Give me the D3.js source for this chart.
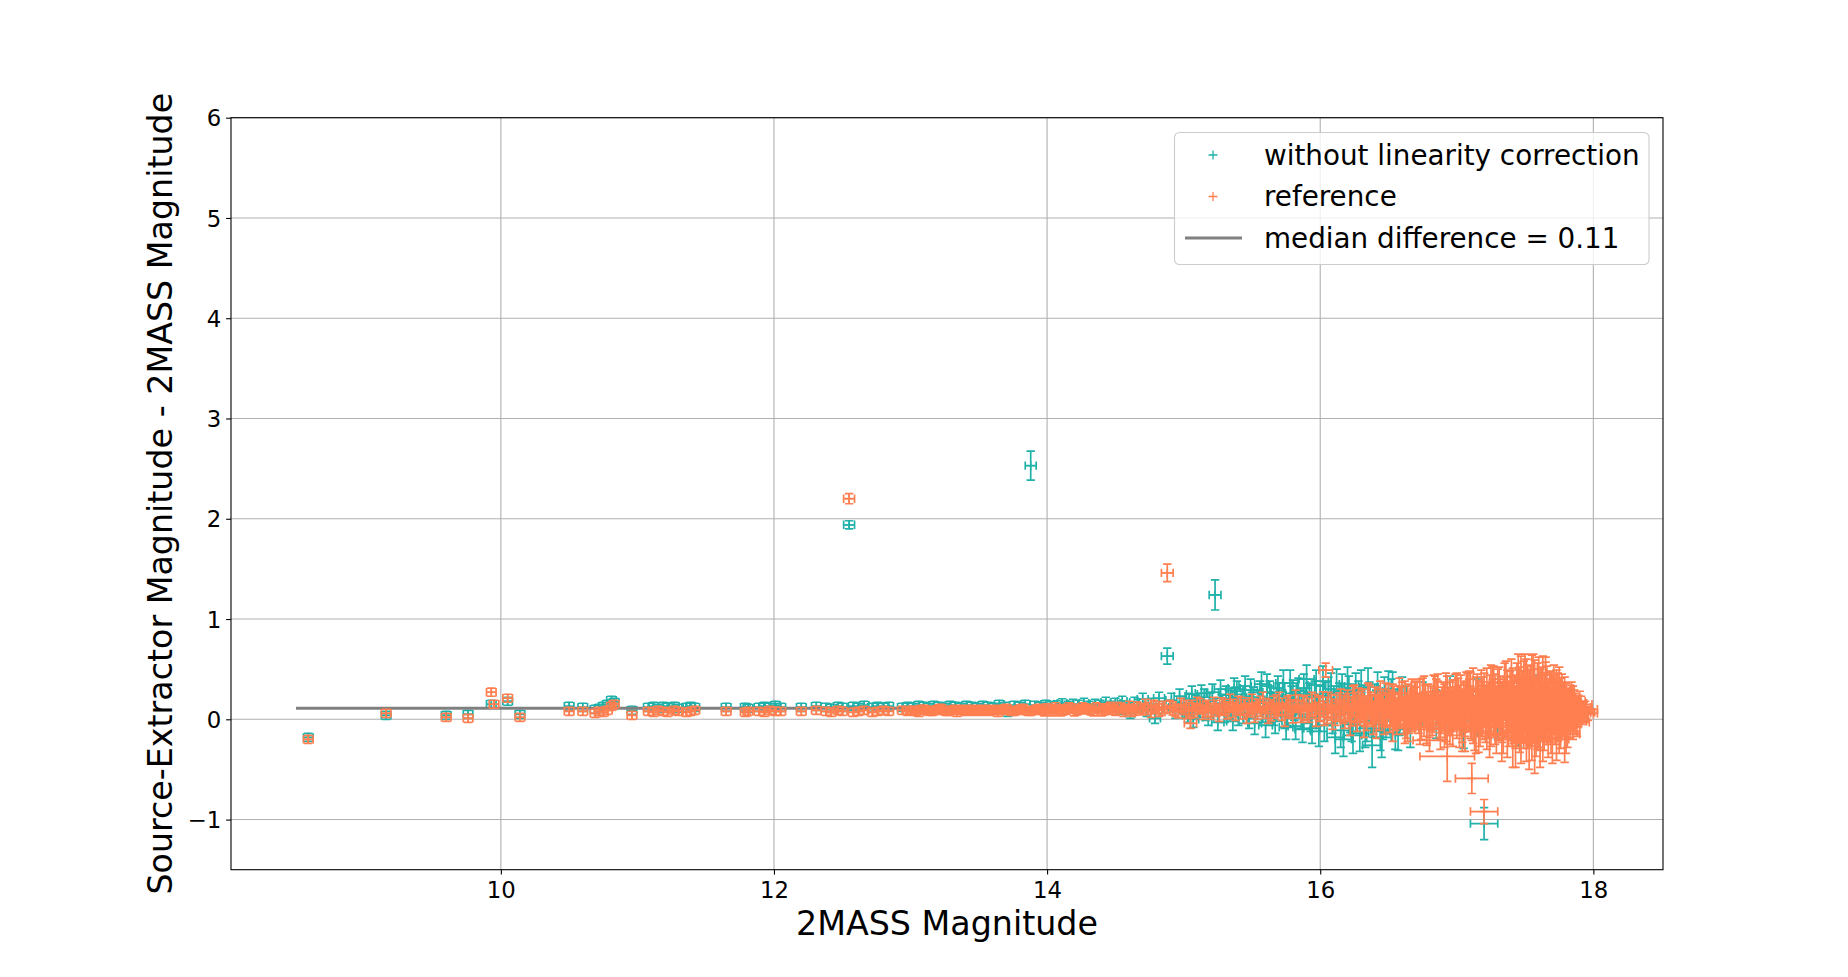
<!DOCTYPE html>
<html>
<head>
<meta charset="utf-8">
<script src="https://cdn.jsdelivr.net/npm/d3@7"></script>
<style>
body { margin: 0; background: #fff; }
text { font-family: "DejaVu Sans", sans-serif; }
</style>
</head>
<body>
<svg id="chart"></svg>
<script>
// axis setup
const xLimits = [8.024, 18.51];
const yLimits = [-1.5, 6];
const xTicks = [10, 12, 14, 16, 18];
const yTicks = [-1, 0, 1, 2, 3, 4, 5, 6];
const xLabel = '2MASS Magnitude';
const yLabel = 'Source-Extractor Magnitude - 2MASS Magnitude';

const medianDiff = 0.11;
const medianSpan = [8.5, 18.0];
const seriesNames = ['without linearity correction', 'reference', 'median difference = 0.11'];

// [2MASS mag, difference, mag error, difference error]
const uncorrected = [
	[8.59,-0.18,0.035,0.04],[9.16,0.04,0.035,0.04],[9.60,0.04,0.035,0.04],[9.76,0.05,0.035,0.04],
	[9.93,0.15,0.035,0.04],[10.05,0.18,0.035,0.04],[10.14,0.05,0.035,0.04],
	[10.50,0.13,0.035,0.04],[10.60,0.12,0.035,0.04],[10.69,0.10,0.035,0.04],[10.72,0.11,0.035,0.04],
	[10.75,0.13,0.035,0.04],[10.78,0.15,0.035,0.04],[10.81,0.19,0.035,0.04],[10.83,0.17,0.035,0.04],
	[10.96,0.09,0.035,0.04],[11.08,0.12,0.035,0.04],[11.12,0.13,0.035,0.04],[11.15,0.11,0.035,0.04],
	[11.19,0.13,0.035,0.04],[11.22,0.12,0.035,0.04],[11.27,0.13,0.035,0.04],[11.30,0.11,0.035,0.04],
	[11.36,0.12,0.035,0.04],[11.39,0.13,0.035,0.04],[11.42,0.12,0.035,0.04],[11.65,0.12,0.035,0.04],
	[11.79,0.12,0.035,0.04],[11.81,0.11,0.035,0.04],[11.89,0.12,0.035,0.04],[11.93,0.13,0.035,0.04],
	[11.97,0.12,0.035,0.04],[12.01,0.14,0.035,0.04],[12.05,0.12,0.035,0.04],[12.20,0.12,0.035,0.04],
	[12.31,0.13,0.035,0.04],[12.38,0.12,0.035,0.04],[12.42,0.11,0.035,0.04],[12.47,0.13,0.035,0.04],
	[12.50,0.12,0.035,0.04],[12.55,1.94,0.04,0.04],[12.58,0.13,0.035,0.04],[12.62,0.12,0.035,0.04],
	[12.66,0.14,0.035,0.04],[12.72,0.12,0.035,0.04],[12.76,0.13,0.035,0.04],[12.80,0.12,0.035,0.04],
	[12.84,0.13,0.035,0.04],[12.94,0.12,0.035,0.04],[12.98,0.13,0.035,0.04],[13.02,0.12,0.035,0.04],
	[13.06,0.14,0.035,0.04],[13.10,0.13,0.035,0.04],[13.13,0.12,0.035,0.04],[13.17,0.14,0.035,0.04],
	[13.21,0.13,0.035,0.04],[13.25,0.12,0.035,0.04],[13.29,0.14,0.035,0.04],[13.33,0.13,0.035,0.04],
	[13.37,0.12,0.035,0.04],[13.41,0.14,0.035,0.04],[13.45,0.13,0.035,0.04],[13.49,0.12,0.035,0.04],
	[13.53,0.14,0.035,0.04],[13.57,0.13,0.035,0.04],[13.61,0.12,0.035,0.04],[13.65,0.15,0.035,0.04],
	[13.69,0.13,0.035,0.04],[13.71,0.07,0.035,0.04],[13.76,0.14,0.035,0.04],[13.80,0.13,0.035,0.04],
	[13.84,0.15,0.035,0.04],[13.88,2.53,0.04,0.145],[13.91,0.14,0.035,0.04],[13.95,0.13,0.035,0.04],
	[13.99,0.15,0.035,0.04],[14.03,0.13,0.035,0.045],[14.07,0.14,0.035,0.045],[14.11,0.16,0.035,0.045],
	[14.15,0.13,0.035,0.05],[14.19,0.15,0.035,0.05],[14.23,0.14,0.035,0.05],[14.27,0.16,0.035,0.05],
	[14.31,0.13,0.035,0.05],[14.35,0.15,0.035,0.05],[14.39,0.14,0.035,0.05],[14.43,0.17,0.035,0.05],
	[14.47,0.13,0.035,0.05],[14.50,0.16,0.035,0.05],[14.52,0.10,0.035,0.05],[14.55,0.18,0.035,0.05],
	[14.58,0.13,0.035,0.05],[14.61,0.06,0.035,0.05],[14.64,0.17,0.035,0.05],[14.67,0.14,0.04,0.06],
	[14.70,0.20,0.04,0.06],[14.73,0.09,0.04,0.06],[14.76,0.15,0.04,0.06],[14.79,0.01,0.04,0.05],
	[14.82,0.21,0.04,0.06],[14.85,0.12,0.04,0.06],[14.88,0.63,0.043,0.08],[14.91,0.19,0.04,0.07],
	[14.94,0.08,0.04,0.07],[14.97,0.23,0.04,0.07],[15.00,0.14,0.04,0.07],[15.03,0.04,0.04,0.07],
	[15.06,0.25,0.04,0.08],[15.09,0.17,0.04,0.07],[15.12,0.10,0.04,0.08],[15.15,0.22,0.04,0.08],
	[15.18,0.02,0.04,0.08],[15.21,0.27,0.045,0.08],[15.23,1.24,0.043,0.15],[15.24,0.13,0.045,0.08],
	[15.27,0.30,0.045,0.09],[15.30,0.06,0.045,0.09],[15.33,0.20,0.045,0.09],[15.36,-0.02,0.045,0.09],
	[15.39,0.28,0.045,0.10],[15.42,0.15,0.045,0.10],[15.45,0.33,0.045,0.10],[15.48,0.01,0.045,0.10],
	[15.51,0.22,0.05,0.10],[15.54,0.10,0.05,0.10],[15.57,0.35,0.05,0.12],[15.60,-0.06,0.05,0.12],
	[15.63,0.27,0.05,0.11],[15.66,0.05,0.05,0.11],[15.69,0.31,0.05,0.12],[15.72,0.17,0.05,0.12],
	[15.75,-0.08,0.05,0.12],[15.78,0.36,0.055,0.13],[15.81,0.12,0.055,0.13],[15.84,0.28,0.055,0.13],
	[15.87,-0.10,0.055,0.13],[15.90,0.40,0.055,0.14],[15.93,0.02,0.055,0.14],[15.96,0.24,0.055,0.14],
	[15.99,-0.12,0.06,0.15],[16.02,0.38,0.06,0.15],[16.05,0.09,0.06,0.15],[16.08,0.30,0.06,0.16],
	[16.11,-0.18,0.06,0.16],[16.14,0.20,0.06,0.16],[16.17,-0.20,0.06,0.17],[16.20,0.35,0.06,0.17],
	[16.23,-0.05,0.065,0.17],[16.26,0.28,0.065,0.18],[16.29,-0.14,0.065,0.18],[16.32,0.16,0.065,0.18],
	[16.35,0.32,0.065,0.19],[16.38,-0.26,0.07,0.22],[16.41,0.10,0.07,0.19],[16.44,-0.12,0.07,0.19],
	[16.47,0.22,0.07,0.20],[16.50,0.30,0.07,0.18],[16.55,-0.14,0.07,0.16],[16.60,0.21,0.075,0.21],
	[16.66,-0.08,0.075,0.20],[16.75,0.15,0.08,0.22],[16.85,0.05,0.08,0.24],[16.95,0.18,0.09,0.25],
	[17.05,-0.02,0.09,0.27],[17.15,0.12,0.10,0.28],[17.20,-1.04,0.10,0.16],[17.30,0.10,0.10,0.30],
	[17.45,0.05,0.11,0.32],[17.60,0.14,0.11,0.30],
	[15.01,0.09,0.04,0.07],[15.04,0.19,0.04,0.07],[15.07,0.00,0.04,0.08],[15.10,0.13,0.04,0.08],
	[15.13,0.26,0.045,0.08],[15.16,0.07,0.045,0.08],[15.19,0.18,0.045,0.08],[15.25,-0.03,0.045,0.08],
	[15.28,0.16,0.045,0.09],[15.31,0.24,0.045,0.09],[15.34,0.09,0.045,0.09],[15.37,0.31,0.045,0.10],
	[15.40,0.04,0.045,0.10],[15.43,0.20,0.05,0.10],[15.46,0.12,0.05,0.10],[15.49,0.29,0.05,0.11],
	[15.52,-0.04,0.05,0.11],[15.55,0.18,0.05,0.11],[15.58,0.08,0.05,0.11],[15.61,0.33,0.05,0.12],
	[15.64,0.14,0.05,0.12],[15.67,-0.02,0.05,0.12],[15.70,0.24,0.05,0.12],[15.73,0.36,0.055,0.13],
	[15.76,0.07,0.055,0.13],[15.79,0.20,0.055,0.13],[15.82,-0.07,0.055,0.13],[15.85,0.15,0.055,0.14],
	[15.88,0.31,0.055,0.14],[15.91,0.10,0.055,0.14],[15.94,-0.09,0.06,0.15],[15.97,0.34,0.06,0.15],
	[16.00,0.18,0.06,0.15],[16.03,-0.06,0.06,0.16],[16.06,0.26,0.06,0.16],[16.09,0.02,0.06,0.16],
	[16.12,0.33,0.06,0.17],[16.15,-0.11,0.06,0.17],[16.18,0.14,0.065,0.17],[16.21,0.25,0.065,0.18],
	[16.24,-0.16,0.065,0.18],[16.27,0.06,0.065,0.18],[16.30,0.30,0.065,0.19],[16.33,-0.09,0.07,0.19],
	[16.36,0.18,0.07,0.19],[16.39,0.02,0.07,0.20],[16.42,0.27,0.07,0.20],[16.45,-0.18,0.07,0.20],
	[16.48,0.08,0.07,0.20],[16.52,0.19,0.075,0.21],[16.57,-0.10,0.075,0.21],[16.63,0.12,0.075,0.21],
	[15.32,0.12,0.045,0.09],[15.38,0.22,0.045,0.10],[15.44,0.06,0.05,0.10],[15.50,0.17,0.05,0.10],
	[15.56,0.27,0.05,0.11],[15.62,0.09,0.05,0.12],[15.68,0.19,0.05,0.12],[15.74,0.03,0.055,0.12],
	[15.80,0.26,0.055,0.13],[15.86,0.05,0.055,0.14],[15.92,0.22,0.055,0.14],[15.98,0.08,0.06,0.15],
	[16.04,0.22,0.06,0.15],[16.10,0.12,0.06,0.16],[16.16,0.28,0.06,0.17],[16.22,0.05,0.065,0.18],
	[16.28,0.20,0.065,0.18],[16.34,-0.03,0.07,0.19],[16.40,0.15,0.07,0.20],[16.46,0.00,0.07,0.20],
	[16.53,0.28,0.075,0.19],[16.58,0.05,0.075,0.21]
];

const reference = [
	[8.59,-0.20,0.035,0.04],[9.16,0.06,0.035,0.04],[9.60,0.02,0.035,0.04],[9.76,0.01,0.035,0.04],
	[9.93,0.27,0.035,0.04],[9.95,0.15,0.035,0.04],[10.05,0.21,0.035,0.04],[10.14,0.02,0.035,0.04],
	[10.50,0.08,0.035,0.04],[10.60,0.08,0.035,0.04],[10.69,0.06,0.035,0.04],[10.72,0.08,0.035,0.04],
	[10.75,0.07,0.035,0.04],[10.78,0.09,0.035,0.04],[10.81,0.13,0.035,0.04],[10.83,0.15,0.035,0.04],
	[10.96,0.04,0.035,0.04],[11.08,0.08,0.035,0.04],[11.12,0.07,0.035,0.04],[11.15,0.09,0.035,0.04],
	[11.19,0.08,0.035,0.04],[11.22,0.07,0.035,0.04],[11.27,0.09,0.035,0.04],[11.30,0.08,0.035,0.04],
	[11.36,0.07,0.035,0.04],[11.39,0.08,0.035,0.04],[11.42,0.09,0.035,0.04],[11.65,0.08,0.035,0.04],
	[11.79,0.07,0.035,0.04],[11.81,0.08,0.035,0.04],[11.89,0.08,0.035,0.04],[11.93,0.07,0.035,0.04],
	[11.97,0.09,0.035,0.04],[12.01,0.08,0.035,0.04],[12.05,0.08,0.035,0.04],[12.20,0.08,0.035,0.04],
	[12.31,0.09,0.035,0.04],[12.38,0.08,0.035,0.04],[12.42,0.07,0.035,0.04],[12.47,0.09,0.035,0.04],
	[12.50,0.08,0.035,0.04],[12.55,2.20,0.04,0.05],[12.58,0.07,0.035,0.04],[12.62,0.08,0.035,0.04],
	[12.66,0.09,0.035,0.04],[12.72,0.07,0.035,0.04],[12.76,0.08,0.035,0.04],[12.80,0.09,0.035,0.04],
	[12.84,0.08,0.035,0.04],[12.94,0.09,0.035,0.04],[12.98,0.08,0.035,0.04],[13.00,0.09,0.035,0.04],
	[13.04,0.08,0.035,0.04],[13.08,0.10,0.035,0.04],[13.12,0.09,0.035,0.04],[13.16,0.08,0.035,0.04],
	[13.20,0.10,0.035,0.04],[13.24,0.09,0.035,0.04],[13.28,0.08,0.035,0.04],[13.32,0.10,0.035,0.04],
	[13.36,0.09,0.035,0.04],[13.40,0.08,0.035,0.04],[13.44,0.10,0.035,0.04],[13.48,0.09,0.035,0.04],
	[13.52,0.08,0.035,0.04],[13.56,0.10,0.035,0.04],[13.60,0.09,0.035,0.04],[13.64,0.07,0.035,0.04],
	[13.68,0.10,0.035,0.04],[13.72,0.09,0.035,0.04],[13.76,0.08,0.035,0.04],[13.80,0.10,0.035,0.04],
	[13.84,0.09,0.035,0.04],[13.88,0.08,0.035,0.04],[13.92,0.10,0.035,0.04],[13.96,0.09,0.035,0.04],
	[14.00,0.11,0.035,0.045],[14.04,0.08,0.035,0.045],[14.08,0.10,0.035,0.045],[14.12,0.09,0.035,0.045],
	[14.16,0.12,0.035,0.045],[14.20,0.08,0.035,0.045],[14.24,0.10,0.035,0.045],[14.28,0.11,0.035,0.045],
	[14.32,0.09,0.035,0.045],[14.36,0.12,0.035,0.045],[14.40,0.08,0.035,0.045],[14.44,0.11,0.035,0.045],
	[14.48,0.10,0.035,0.05],[14.52,0.12,0.035,0.05],[14.56,0.08,0.035,0.05],[14.60,0.13,0.035,0.05],
	[14.64,0.09,0.035,0.05],[14.68,0.11,0.035,0.05],[14.72,0.14,0.04,0.06],[14.76,0.08,0.04,0.06],
	[14.80,0.12,0.04,0.06],[14.84,0.10,0.04,0.06],[14.88,1.46,0.043,0.087],[14.90,0.13,0.04,0.06],
	[14.94,0.09,0.04,0.06],[14.98,0.14,0.04,0.07],[15.02,0.08,0.04,0.07],[15.05,-0.04,0.045,0.05],
	[15.06,0.12,0.04,0.07],[15.10,0.15,0.04,0.07],[15.14,0.07,0.04,0.07],[15.18,0.11,0.045,0.08],
	[15.22,0.14,0.045,0.08],[15.26,0.06,0.045,0.08],[15.30,0.12,0.045,0.08],[15.34,0.16,0.045,0.09],
	[15.38,0.08,0.045,0.09],[15.42,0.13,0.045,0.09],[15.46,0.05,0.045,0.09],[15.50,0.15,0.05,0.10],
	[15.54,0.10,0.05,0.10],[15.58,0.17,0.05,0.10],[15.62,0.06,0.05,0.10],[15.66,0.12,0.05,0.11],
	[15.70,0.16,0.05,0.11],[15.74,0.04,0.05,0.11],[15.78,0.13,0.055,0.11],[15.82,0.18,0.055,0.11],
	[15.86,0.08,0.055,0.11],[15.90,0.12,0.055,0.12],[15.94,0.15,0.055,0.12],[15.97,0.05,0.06,0.12],
	[16.00,0.10,0.06,0.12],[16.03,0.06,0.06,0.12],[16.04,0.49,0.05,0.07],[16.06,0.14,0.06,0.13],
	[16.09,0.02,0.06,0.12],[16.12,0.11,0.06,0.13],[16.15,0.17,0.06,0.13],[16.18,0.05,0.06,0.14],
	[16.21,0.12,0.07,0.14],[16.24,0.19,0.07,0.14],[16.27,0.03,0.07,0.15],[16.30,0.13,0.07,0.15],
	[16.33,0.08,0.07,0.15],[16.36,0.18,0.07,0.16],[16.39,0.00,0.07,0.15],[16.42,0.14,0.07,0.16],
	[16.45,0.10,0.07,0.17],[16.48,0.20,0.07,0.16],[16.51,0.04,0.08,0.17],[16.52,0.11,0.08,0.18],
	[16.54,0.15,0.08,0.18],[16.56,0.02,0.08,0.17],[16.57,0.09,0.08,0.18],[16.59,0.13,0.08,0.19],
	[16.60,0.18,0.08,0.19],[16.62,0.21,0.08,0.17],[16.63,-0.01,0.08,0.18],[16.65,0.05,0.08,0.19],
	[16.66,0.13,0.08,0.20],[16.68,0.10,0.08,0.20],[16.69,0.17,0.08,0.20],[16.71,0.16,0.08,0.21],
	[16.72,0.06,0.08,0.20],[16.74,0.00,0.09,0.20],[16.75,0.20,0.09,0.21],[16.77,0.13,0.09,0.21],
	[16.78,-0.04,0.09,0.20],[16.80,-0.21,0.12,0.11],[16.81,0.11,0.09,0.22],[16.82,0.06,0.09,0.22],
	[16.84,0.22,0.09,0.21],[16.86,0.16,0.09,0.22],[16.87,0.02,0.09,0.22],[16.89,0.09,0.09,0.23],
	[16.90,0.14,0.09,0.23],[16.92,0.01,0.09,0.23],[16.93,-0.37,0.20,0.25],[16.93,0.19,0.09,0.24],
	[16.95,0.13,0.10,0.24],[16.96,0.07,0.10,0.23],[16.98,0.10,0.10,0.22],[16.99,0.21,0.10,0.24],
	[17.01,0.17,0.10,0.24],[17.02,-0.03,0.10,0.25],[17.04,0.03,0.10,0.26],[17.05,0.12,0.10,0.25],
	[17.07,0.13,0.10,0.25],[17.08,0.24,0.10,0.22],[17.10,0.20,0.10,0.27],[17.11,-0.59,0.12,0.15],
	[17.11,0.05,0.10,0.26],[17.13,-0.05,0.11,0.26],[17.14,0.16,0.10,0.26],[17.16,0.11,0.11,0.28],
	[17.17,0.00,0.11,0.27],[17.19,0.07,0.11,0.27],[17.20,-0.92,0.10,0.12],[17.20,0.19,0.11,0.27],
	[17.22,0.22,0.11,0.29],[17.23,0.09,0.11,0.28],[17.25,0.01,0.11,0.28],[17.26,0.25,0.11,0.27],
	[17.28,0.15,0.12,0.30],[17.29,-0.06,0.11,0.28],[17.31,0.08,0.12,0.29],[17.32,0.14,0.11,0.29],
	[17.34,-0.04,0.12,0.30],[17.35,0.28,0.12,0.28],[17.37,0.18,0.12,0.31],[17.38,0.03,0.12,0.30],
	[17.40,0.11,0.12,0.32],[17.41,0.20,0.12,0.31],[17.42,0.06,0.12,0.30],[17.43,-0.18,0.12,0.30],
	[17.44,0.23,0.12,0.33],[17.45,0.33,0.12,0.32],[17.46,-0.01,0.13,0.32],[17.47,0.08,0.12,0.31],
	[17.48,0.14,0.13,0.34],[17.49,0.25,0.12,0.33],[17.50,0.30,0.13,0.35],[17.51,-0.10,0.12,0.32],
	[17.52,0.04,0.13,0.33],[17.53,0.15,0.13,0.34],[17.54,0.19,0.13,0.34],[17.55,0.31,0.13,0.33],
	[17.56,0.09,0.13,0.33],[17.57,-0.22,0.13,0.32],[17.58,-0.05,0.13,0.32],[17.59,0.22,0.13,0.34],
	[17.60,0.27,0.13,0.35],[17.61,0.02,0.13,0.33],[17.62,0.13,0.13,0.33],[17.63,0.30,0.13,0.33],
	[17.64,0.00,0.12,0.31],[17.65,0.12,0.13,0.32],[17.66,0.21,0.12,0.32],[17.67,-0.08,0.12,0.30],
	[17.68,0.07,0.12,0.30],[17.69,0.18,0.12,0.30],[17.70,0.16,0.12,0.29],[17.71,0.26,0.12,0.28],
	[17.72,0.03,0.12,0.28],[17.73,-0.12,0.12,0.29],[17.74,0.19,0.11,0.27],[17.75,0.10,0.11,0.27],
	[17.76,-0.03,0.11,0.26],[17.77,0.20,0.11,0.25],[17.78,0.12,0.11,0.25],[17.79,-0.15,0.11,0.28],
	[17.80,0.08,0.10,0.22],[17.81,0.05,0.10,0.24],[17.83,0.14,0.10,0.20],[17.84,0.18,0.10,0.19],
	[17.85,-0.02,0.10,0.18],[17.86,0.04,0.09,0.16],[17.87,0.09,0.09,0.17],[17.88,-0.03,0.09,0.14],
	[17.89,0.12,0.09,0.12],[17.90,0.15,0.09,0.13],[17.92,0.05,0.08,0.10],[17.94,0.10,0.09,0.08],
	[17.96,0.06,0.07,0.07],
	[13.02,0.09,0.035,0.04],[13.06,0.07,0.035,0.04],[13.10,0.10,0.035,0.04],[13.14,0.08,0.035,0.04],
	[13.18,0.09,0.035,0.04],[13.22,0.11,0.035,0.04],[13.26,0.08,0.035,0.04],[13.30,0.09,0.035,0.04],
	[13.34,0.07,0.035,0.04],[13.38,0.10,0.035,0.04],[13.42,0.09,0.035,0.04],[13.46,0.08,0.035,0.04],
	[13.50,0.10,0.035,0.04],[13.54,0.09,0.035,0.04],[13.58,0.08,0.035,0.04],[13.62,0.10,0.035,0.04],
	[13.66,0.09,0.035,0.04],[13.70,0.11,0.035,0.04],[13.74,0.08,0.035,0.04],[13.78,0.09,0.035,0.04],
	[13.82,0.11,0.035,0.04],[13.86,0.08,0.035,0.04],[13.90,0.09,0.035,0.04],[13.94,0.11,0.035,0.04],
	[13.98,0.08,0.035,0.045],[14.02,0.10,0.035,0.045],[14.06,0.12,0.035,0.045],[14.10,0.08,0.035,0.045],
	[14.14,0.10,0.035,0.045],[14.18,0.11,0.035,0.045],[14.22,0.09,0.035,0.045],[14.26,0.12,0.035,0.045],
	[14.30,0.10,0.035,0.045],[14.34,0.08,0.035,0.045],[14.38,0.11,0.035,0.045],[14.42,0.09,0.035,0.045],
	[14.46,0.12,0.035,0.05],[14.50,0.09,0.035,0.05],[14.54,0.11,0.035,0.05],[14.58,0.10,0.035,0.05],
	[14.62,0.08,0.035,0.05],[14.66,0.12,0.04,0.055],[14.70,0.10,0.04,0.055],[14.74,0.11,0.04,0.06],
	[14.78,0.13,0.04,0.06],[14.82,0.09,0.04,0.06],[14.86,0.12,0.04,0.06],[14.92,0.11,0.04,0.065],
	[14.96,0.08,0.04,0.065],[15.00,0.12,0.04,0.07],[15.04,0.10,0.04,0.07],[15.08,0.09,0.04,0.07],
	[15.12,0.13,0.045,0.075],[15.16,0.10,0.045,0.075],[15.20,0.08,0.045,0.08],[15.24,0.11,0.045,0.08],
	[15.28,0.13,0.045,0.085],[15.32,0.09,0.045,0.085],[15.36,0.11,0.045,0.09],[15.40,0.14,0.045,0.09],
	[15.44,0.10,0.05,0.095],[15.48,0.12,0.05,0.095],[15.52,0.07,0.05,0.10],[15.56,0.13,0.05,0.10],
	[15.60,0.11,0.05,0.10],[15.64,0.09,0.05,0.105],[15.68,0.14,0.05,0.105],[15.72,0.10,0.05,0.11],
	[15.76,0.12,0.055,0.11],[15.80,0.08,0.055,0.115],[15.84,0.13,0.055,0.115],[15.88,0.11,0.055,0.12],
	[15.92,0.09,0.055,0.12],[15.96,0.13,0.06,0.12],[15.99,0.11,0.06,0.125],[16.02,0.15,0.06,0.125],
	[16.05,0.09,0.06,0.13],[16.08,0.12,0.06,0.13],[16.11,0.07,0.06,0.13],[16.14,0.13,0.06,0.135],
	[16.17,0.10,0.06,0.14],[16.20,0.15,0.065,0.14],[16.23,0.08,0.065,0.145],[16.26,0.12,0.065,0.15],
	[16.29,0.09,0.065,0.15],
	[16.31,0.15,0.07,0.15],[16.34,0.05,0.07,0.16],[16.37,0.11,0.07,0.16],[16.40,0.16,0.07,0.16],
	[16.43,0.06,0.07,0.17],[16.46,0.13,0.07,0.17],[16.49,0.09,0.08,0.17],[16.53,0.17,0.08,0.18],
	[16.55,0.07,0.08,0.18],[16.58,0.14,0.08,0.19],[16.61,0.04,0.08,0.19],[16.64,0.16,0.08,0.19],
	[16.67,0.08,0.08,0.20],[16.70,0.12,0.08,0.20],[16.73,0.19,0.09,0.21],[16.76,0.04,0.09,0.21],
	[16.79,0.14,0.09,0.21],[16.83,0.09,0.09,0.22],[16.85,0.18,0.09,0.22],[16.88,0.05,0.09,0.23],
	[16.91,0.12,0.09,0.23],[16.94,0.08,0.10,0.24],[16.97,0.15,0.10,0.24],[17.00,0.06,0.10,0.25],
	[17.03,0.19,0.10,0.25],[17.06,0.09,0.10,0.26],[17.09,0.14,0.10,0.26],[17.12,0.02,0.11,0.26],
	[17.15,0.18,0.11,0.27],[17.18,0.10,0.11,0.27],[17.21,0.05,0.11,0.28],[17.24,0.16,0.11,0.28],
	[17.27,0.11,0.12,0.29],[17.30,0.21,0.12,0.29],[17.33,0.07,0.12,0.30],[17.36,0.12,0.12,0.30],
	[17.39,0.17,0.12,0.31],[17.42,0.13,0.12,0.31],[17.44,0.05,0.12,0.32],[17.46,0.20,0.13,0.32],
	[17.48,0.09,0.13,0.33],[17.50,0.12,0.13,0.33],[17.52,0.22,0.13,0.32],[17.54,0.06,0.13,0.33],
	[17.56,0.16,0.13,0.34],[17.58,0.10,0.13,0.33],[17.60,0.05,0.13,0.33],[17.62,0.20,0.13,0.32],
	[17.64,0.14,0.12,0.32],[17.66,0.06,0.12,0.31],[17.68,0.17,0.12,0.30],[17.70,0.10,0.12,0.29],
	[17.72,0.13,0.12,0.28],[17.74,0.05,0.11,0.27],[17.76,0.15,0.11,0.26],[17.78,0.08,0.11,0.25],
	[17.80,0.13,0.10,0.23],[17.82,0.10,0.10,0.21],[17.84,0.07,0.10,0.19],[17.86,0.13,0.09,0.16],
	[17.88,0.09,0.09,0.14],[17.91,0.11,0.08,0.12],[17.93,0.07,0.08,0.10],
	[16.97,-0.05,0.10,0.22],[17.00,0.26,0.10,0.20],[17.06,-0.10,0.10,0.22],[17.09,0.30,0.10,0.18],
	[17.14,-0.12,0.11,0.22],[17.18,0.29,0.11,0.20],[17.24,-0.14,0.11,0.24],[17.27,0.33,0.11,0.20],
	[17.33,-0.16,0.12,0.26],[17.36,0.36,0.12,0.22],[17.41,-0.20,0.12,0.28],[17.47,0.38,0.12,0.25],
	[17.53,-0.22,0.13,0.28],[17.56,0.40,0.13,0.25],[17.61,-0.18,0.13,0.30],[17.65,0.36,0.12,0.26],
	[17.70,-0.20,0.12,0.24],[17.75,0.30,0.11,0.22],[17.80,-0.12,0.10,0.22],[16.62,-0.08,0.08,0.16],
	[16.70,0.24,0.08,0.14],[16.78,-0.10,0.09,0.16],[16.86,0.27,0.09,0.18],[16.91,-0.08,0.09,0.20],
	[16.22,-0.02,0.07,0.14],[16.25,0.22,0.07,0.12],[16.28,0.16,0.07,0.15],[16.32,-0.03,0.07,0.15],
	[16.35,0.23,0.07,0.13],[16.38,0.09,0.07,0.16],[16.41,-0.04,0.07,0.15],[16.44,0.24,0.07,0.14],
	[16.47,0.02,0.07,0.17],[16.50,0.18,0.08,0.17],[16.53,-0.06,0.08,0.16],[16.58,0.26,0.08,0.15],
	[16.64,-0.05,0.08,0.17],[16.67,0.22,0.08,0.18],[16.73,-0.07,0.09,0.18],[16.76,0.25,0.09,0.18],
	[16.80,0.03,0.09,0.21],[16.83,0.24,0.09,0.20],[16.88,-0.09,0.09,0.21],[16.92,0.25,0.09,0.21],
	[16.95,-0.02,0.10,0.23],[16.99,0.15,0.10,0.24],[17.02,0.09,0.10,0.25],[17.04,-0.08,0.10,0.24],
	[17.07,0.22,0.10,0.25],[17.10,0.07,0.10,0.26],[17.12,0.27,0.11,0.24],[17.16,-0.07,0.11,0.26],
	[17.19,0.15,0.11,0.27],[17.22,-0.02,0.11,0.28],[17.25,0.28,0.11,0.26],[17.28,0.04,0.12,0.29],
	[17.31,0.24,0.12,0.28],[17.34,0.10,0.12,0.30],[17.37,-0.08,0.12,0.30],[17.40,0.30,0.12,0.30],
	[17.43,0.02,0.12,0.31],[17.45,0.17,0.12,0.32],[17.47,-0.12,0.13,0.32],[17.49,0.04,0.13,0.33],
	[17.51,0.27,0.13,0.33],[17.53,0.08,0.13,0.34],[17.55,-0.08,0.13,0.33],[17.57,0.25,0.13,0.34],
	[17.59,0.03,0.13,0.33],[17.61,0.17,0.13,0.33],[17.63,-0.10,0.13,0.32],[17.65,0.26,0.12,0.31],
	[17.67,0.09,0.12,0.31],[17.69,-0.04,0.12,0.30],[17.71,0.14,0.12,0.29],[17.73,0.22,0.12,0.27],
	[17.75,-0.07,0.11,0.27],[17.77,0.06,0.11,0.26],[17.79,0.18,0.11,0.24],[17.81,-0.05,0.10,0.23],
	[17.83,0.03,0.10,0.21],[17.85,0.16,0.10,0.17],[17.87,0.01,0.09,0.15],[17.89,0.06,0.09,0.13]
];

const width = 1848;
const height = 977;
const margin = {left: 231, right: 1663, top: 117.7, bottom: 869.7};

const svg = d3.select('#chart')
	.attr('width', width)
	.attr('height', height);

const x = d3.scaleLinear().domain(xLimits).range([margin.left, margin.right]);
const y = d3.scaleLinear().domain(yLimits).range([margin.bottom, margin.top]);

// grid
const grid = svg.append('g')
	.attr('stroke', '#b0b0b0')
	.attr('stroke-width', 1.1);
grid.selectAll('.vx')
	.data(xTicks)
	.enter().append('line')
		.attr('x1', d => x(d)).attr('x2', d => x(d))
		.attr('y1', margin.top).attr('y2', margin.bottom);
grid.selectAll('.hy')
	.data(yTicks)
	.enter().append('line')
		.attr('x1', margin.left).attr('x2', margin.right)
		.attr('y1', d => y(d)).attr('y2', d => y(d));

const cap = 4.2;
const mk = 4.5;
function errPath(d) {
	const cx = x(d[0]), cy = y(d[1]);
	const x0 = x(d[0] - d[2]), x1 = x(d[0] + d[2]);
	const y0 = y(d[1] - d[3]), y1 = y(d[1] + d[3]);
	return `M${x0},${cy}H${x1}M${cx},${y0}V${y1}` +
		`M${x0},${cy - cap}V${cy + cap}M${x1},${cy - cap}V${cy + cap}` +
		`M${cx - cap},${y0}H${cx + cap}M${cx - cap},${y1}H${cx + cap}`;
}
function plusPath(d) {
	const cx = x(d[0]), cy = y(d[1]);
	return `M${cx - mk},${cy}H${cx + mk}M${cx},${cy - mk}V${cy + mk}`;
}

function drawSeries(data, color) {
	const g = svg.append('g').attr('fill', 'none').attr('stroke', color);
	g.append('g')
		.attr('stroke-width', 1.7)
		.selectAll('path')
		.data(data)
		.enter().append('path')
			.attr('d', errPath);
	g.append('g')
		.attr('stroke-width', 1.4)
		.selectAll('path')
		.data(data)
		.enter().append('path')
			.attr('d', plusPath);
}

drawSeries(uncorrected, '#20b2aa');

svg.append('line')
	.attr('x1', x(medianSpan[0])).attr('x2', x(medianSpan[1]))
	.attr('y1', y(medianDiff)).attr('y2', y(medianDiff))
	.attr('stroke', '#808080')
	.attr('stroke-width', 3);

drawSeries(reference, '#ff7f50');

// frame
svg.append('rect')
	.attr('x', margin.left).attr('y', margin.top)
	.attr('width', margin.right - margin.left)
	.attr('height', margin.bottom - margin.top)
	.attr('fill', 'none')
	.attr('stroke', '#000')
	.attr('stroke-width', 1.1);

// axes
const xAxis = svg.append('g')
	.attr('transform', `translate(0,${margin.bottom})`)
	.call(d3.axisBottom(x).tickValues(xTicks).tickSizeInner(4.9).tickSizeOuter(0).tickPadding(4.9));
const yAxis = svg.append('g')
	.attr('transform', `translate(${margin.left},0)`)
	.call(d3.axisLeft(y).tickValues(yTicks).tickSizeInner(4.9).tickSizeOuter(0).tickPadding(4.9));

[xAxis, yAxis].forEach(a => {
	a.select('.domain').remove();
	a.selectAll('.tick line').attr('stroke', '#000').attr('stroke-width', 1.1);
	a.selectAll('.tick text')
		.attr('fill', '#000')
		.attr('font-size', '22.8px')
		.attr('font-family', '"DejaVu Sans", sans-serif');
});
xAxis.selectAll('.tick text').attr('dy', '0.825em');
yAxis.selectAll('.tick text').attr('dy', '0.36em');

svg.append('text')
	.attr('x', (margin.left + margin.right) / 2)
	.attr('y', 935)
	.attr('text-anchor', 'middle')
	.attr('font-size', '33.3px')
	.text(xLabel);

svg.append('text')
	.attr('transform', `translate(171.7,${(margin.top + margin.bottom) / 2}) rotate(-90)`)
	.attr('text-anchor', 'middle')
	.attr('font-size', '33.3px')
	.text(yLabel);

// legend
const legend = svg.append('g');
legend.append('rect')
	.attr('x', 1174.5).attr('y', 132.5)
	.attr('width', 474.5).attr('height', 132)
	.attr('rx', 5)
	.attr('fill', '#fff').attr('fill-opacity', 0.8)
	.attr('stroke', '#cccccc').attr('stroke-width', 1.1);

const legendRows = [
	{name: seriesNames[0], color: '#20b2aa', type: 'plus', base: 164.5},
	{name: seriesNames[1], color: '#ff7f50', type: 'plus', base: 206},
	{name: seriesNames[2], color: '#808080', type: 'line', base: 247.5}
];
legendRows.forEach(r => {
	const cy = r.base - 9.5;
	if (r.type === 'plus') {
		legend.append('path')
			.attr('d', `M${1213 - mk},${cy}H${1213 + mk}M1213,${cy - mk}V${cy + mk}`)
			.attr('stroke', r.color)
			.attr('stroke-width', 1.3)
			.attr('fill', 'none');
	} else {
		legend.append('line')
			.attr('x1', 1185).attr('x2', 1242)
			.attr('y1', cy).attr('y2', cy)
			.attr('stroke', r.color)
			.attr('stroke-width', 3);
	}
	legend.append('text')
		.attr('x', 1264)
		.attr('y', r.base)
		.attr('font-size', '27.8px')
		.attr('fill', '#000')
		.text(r.name);
});
</script>
</body>
</html>
